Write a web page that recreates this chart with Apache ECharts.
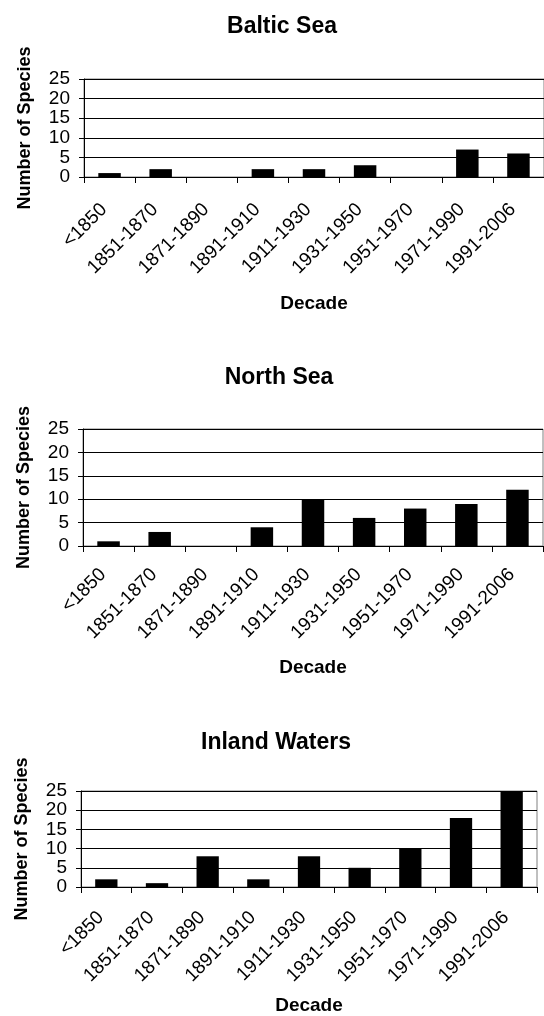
<!DOCTYPE html>
<html>
<head>
<meta charset="utf-8">
<script src="https://cdn.jsdelivr.net/npm/echarts@6/dist/echarts.min.js"></script>
<style>
html,body{margin:0;padding:0;background:#fff;}
#c{width:544px;height:1016px;}
</style>
</head>
<body>
<div id="c"></div>
<script>
const categories = ['<1850','1851-1870','1871-1890','1891-1910','1911-1930','1931-1950','1951-1970','1971-1990','1991-2006'];
const titles = ['Baltic Sea','North Sea','Inland Waters'];
const balticSea = [1,2,0,2,2,3,0,7,6];
const northSea = [1,3,0,4,10,6,8,9,12];
const inlandWaters = [2,1,8,2,8,5,10,18,25];
const seriesData = [balticSea, northSea, inlandWaters];
const yTickMax = 25, yTickStep = 5;
const xName = 'Decade';
const yName = 'Number of Species';

const FONT = '"Liberation Sans", Arial, sans-serif';
const grids = [
  {left:84, top:79, width:465, height:98},
  {left:83, top:429, width:460, height:117},
  {left:81, top:791, width:456, height:101}
];
const titlePos = [{x:277, y:10},{x:274, y:361},{x:271, y:726}];
const nameGaps = [117, 112, 109];
const labelMargins = [24, 20, 22];

const option = {
  animation:false,
  backgroundColor:'#fff',
  title: titles.map((t,i)=>({
    text:t, left:titlePos[i].x, top:titlePos[i].y, textAlign:'center',
    textStyle:{fontFamily:FONT, fontSize:23, fontWeight:'bold', color:'#000'}
  })),
  grid: grids.map(g=>Object.assign({show:true, borderColor:'#808080', borderWidth:1, backgroundColor:'#fff'}, g)),
  xAxis: grids.map((g,i)=>({
    type:'category', gridIndex:i, data:categories, boundaryGap:true,
    name:xName, nameLocation:'middle', nameGap:nameGaps[i],
    nameTextStyle:{fontFamily:FONT, fontSize:19, fontWeight:'bold', color:'#000'},
    axisLine:{show:true, lineStyle:{color:'#000', width:1}},
    axisTick:{show:true, inside:false, length:6, alignWithLabel:false, interval:0, lineStyle:{color:'#000'}},
    axisLabel:{interval:0, rotate:45, margin:labelMargins[i], padding:[0,8,0,0], fontFamily:FONT, fontSize:19, color:'#000'},
    splitLine:{show:false}
  })),
  yAxis: grids.map((g,i)=>({
    type:'value', gridIndex:i, min:0, max:yTickMax, interval:yTickStep,
    name:yName, nameLocation:'middle', nameGap:50,
    nameTextStyle:{fontFamily:FONT, fontSize:18, fontWeight:'bold', color:'#000'},
    axisLine:{show:true, lineStyle:{color:'#000', width:1}},
    axisTick:{show:true, inside:false, length:5, lineStyle:{color:'#000'}},
    axisLabel:{margin:14, fontFamily:FONT, fontSize:19, color:'#000'},
    splitLine:{show:true, lineStyle:{color:'#000', width:1}}
  })),
  series: seriesData.map((d,i)=>({
    type:'bar', xAxisIndex:i, yAxisIndex:i, data:d, barWidth:'44%',
    itemStyle:{color:'#000', borderWidth:0}
  }))
};
const chart = echarts.init(document.getElementById('c'), null, {renderer:'canvas'});
chart.setOption(option);
</script>
</body>
</html>
